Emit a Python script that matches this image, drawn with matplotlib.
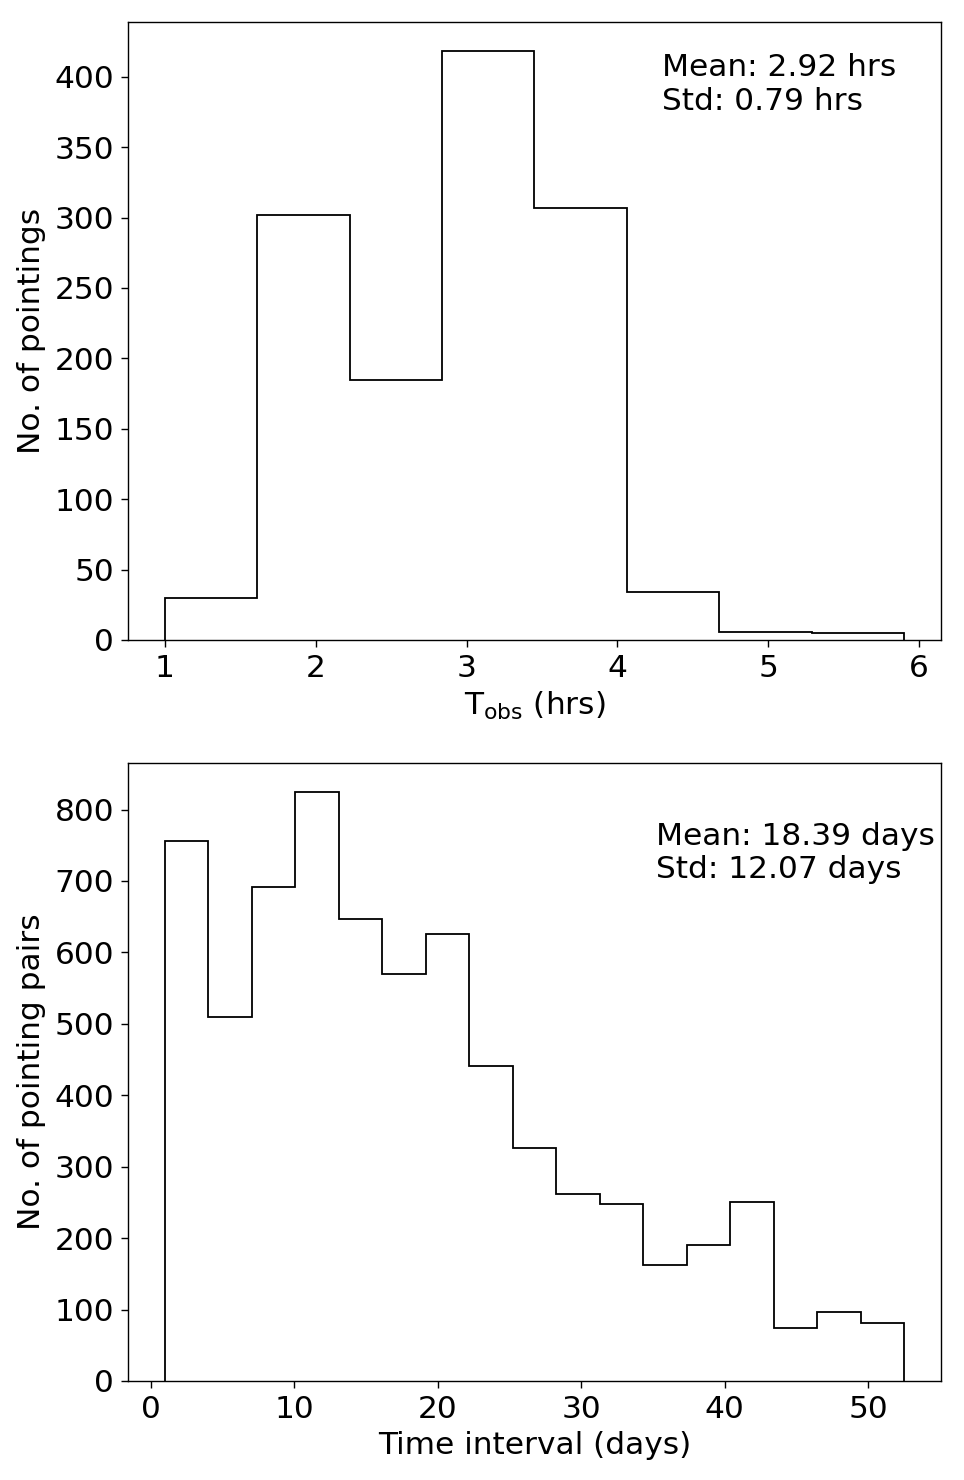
import matplotlib
matplotlib.use('agg')

import matplotlib.pyplot as plt
import numpy as np

# observation length histogram (hrs)
tobs_edges = np.linspace(1.0, 5.9, 9)
tobs_counts = [30, 302, 185, 418, 307, 34, 6, 5]
tobs_stats = ['Mean: 2.92 hrs', 'Std: 0.79 hrs']

# time interval between pointing pairs (days)
dt_edges = np.linspace(1.0, 52.5, 18)
dt_counts = [756, 510, 692, 824, 647, 570, 626, 441, 326, 262, 248,
             163, 191, 250, 74, 97, 81]
dt_stats = ['Mean: 18.39 days', 'Std: 12.07 days']

plt.rcParams['font.size'] = 22.5
plt.rcParams['axes.linewidth'] = 1.0
for ax_name in ('xtick', 'ytick'):
    plt.rcParams[ax_name + '.major.size'] = 5
    plt.rcParams[ax_name + '.major.width'] = 1.0
    plt.rcParams[ax_name + '.major.pad'] = 5

fig = plt.figure(figsize=(9.64, 14.8), dpi=100)
ax1 = fig.add_axes([0.1328, 0.5676, 0.8433, 0.4175])
ax2 = fig.add_axes([0.1328, 0.0669, 0.8433, 0.4176])

ax1.stairs(tobs_counts, tobs_edges, color='black', linewidth=1.3)
ax1.margins(x=0.05, y=0.05)
ax1.set_ylim(0, None)
ax1.set_xlabel(r'T$_{\rm obs}$ (hrs)', labelpad=5)
ax1.set_ylabel('No. of pointings', labelpad=6)
ax1.text(0.657, 0.95, '\n'.join(tobs_stats), transform=ax1.transAxes,
         va='top', ha='left', linespacing=1.2)

ax2.stairs(dt_counts, dt_edges, color='black', linewidth=1.3)
ax2.margins(x=0.05, y=0.05)
ax2.set_ylim(0, None)
ax2.set_xlabel('Time interval (days)', labelpad=5)
ax2.set_ylabel('No. of pointing pairs', labelpad=6)
ax2.text(0.649, 0.905, '\n'.join(dt_stats), transform=ax2.transAxes,
         va='top', ha='left', linespacing=1.2)

fig.savefig('out.png', dpi=100)
